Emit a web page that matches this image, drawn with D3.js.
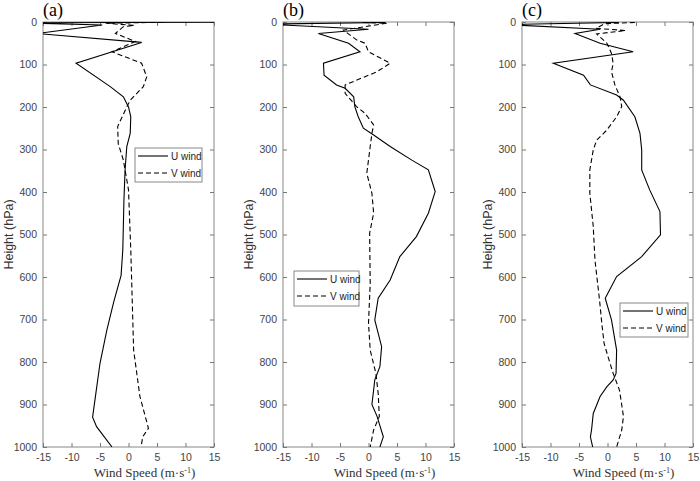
<!DOCTYPE html>
<html>
<head>
<meta charset="utf-8">
<script src="https://cdn.jsdelivr.net/npm/d3@7"></script>
<style>
  body { margin: 0; background: #fff; }
  .tick text { font-family: "Liberation Sans", Arial, sans-serif; font-size: 10.5px; fill: #444; }
  .domain { display: none; }
  .tick line { stroke: #777; }
</style>
</head>
<body>
<div id="chart"></div>
<script>

// wind profiles, pressure in hPa, wind in m/s
var panelNames = ["(a)", "(b)", "(c)"];
var xTicks = [-15, -10, -5, 0, 5, 10, 15];
var yTicks = [0, 100, 200, 300, 400, 500, 600, 700, 800, 900, 1000];

var presA_U = [0.5, 2, 7, 27, 48, 97, 152, 176, 200, 223, 262, 293, 348, 419, 536, 596, 659, 725, 803, 881, 930, 952, 1000];
var windA_U = [16, -18, -4.6, -16, 2.3, -9.2, -3.2, -0.9, 0, 0.4, 0.3, -0.3, -0.6, -0.8, -1.0, -1.3, -2.6, -3.8, -5.0, -5.8, -6.3, -5.6, -2.9];
var presA_V = [0.5, 3, 8, 11, 27, 46, 70, 97, 129, 152, 184, 200, 246, 286, 325, 395, 536, 772, 881, 956, 976, 1000];
var windA_V = [6, -4, 1.0, -0.9, -2.3, 1.2, -2.9, 2.3, 3.2, 2.6, 0.3, -0.3, -1.9, -1.8, -0.9, 0, 0.4, 0.9, 2.0, 3.5, 2.5, 2.2];

var presB_U = [1, 5, 17, 27, 50, 70, 97, 125, 148, 156, 176, 199, 223, 250, 266, 293, 325, 348, 399, 450, 505, 552, 607, 650, 701, 764, 811, 842, 866, 900, 928, 976, 1000];
var windB_U = [3, -18, 0, -8.8, -3.5, -1.5, -7.9, -7.8, -5.6, -4.1, -2.6, -2.4, -1.8, -0.9, 0.9, 3.8, 7.6, 10.5, 11.7, 10.5, 8.4, 5.5, 3.8, 1.7, 1.1, 2.3, 2.0, 1.1, 0.9, 0.6, 1.5, 2.6, 2.0];
var presB_V = [1, 3, 19, 42, 50, 70, 97, 117, 148, 168, 199, 215, 242, 262, 293, 356, 403, 450, 497, 615, 709, 772, 827, 874, 928, 960, 1000];
var windB_V = [-1, 3.2, -4.4, -2.1, -0.6, 0, 3.8, 1.5, -4.1, -4.1, -2.1, -0.6, 0.9, 0.6, 0.3, -0.3, 0.6, 0.9, 0.2, 0.3, 0, 0.3, 1.3, 1.7, 1.9, 0.9, 0.3];

var presC_U = [1, 6, 17, 27, 50, 70, 97, 125, 148, 172, 184, 223, 262, 301, 348, 395, 446, 501, 552, 599, 650, 701, 772, 827, 842, 858, 881, 921, 960, 976, 1000];
var windC_U = [2, -18, -1.3, -5.7, -1.3, 4.5, -9.5, -4.2, -3.0, 1.6, 2.8, 4.8, 5.7, 6.0, 6.0, 7.4, 9.2, 9.3, 6.0, 1.6, -0.4, 0.7, 1.6, 1.5, 1.0, -0.1, -1.3, -2.5, -2.8, -3.0, -2.6];
var presC_V = [1, 4, 15, 20, 28, 50, 74, 97, 117, 148, 176, 199, 223, 254, 278, 301, 348, 403, 481, 560, 654, 709, 756, 788, 827, 866, 928, 960, 1000];
var windC_V = [4.8, -0.5, -2.0, 3.2, -1.9, -0.1, 0.7, 1.0, 0.7, 1.3, 2.2, 2.5, 1.6, -0.1, -1.9, -2.5, -3.1, -3.1, -2.5, -2.2, -1.4, -1.0, -0.6, 0.1, 1.0, 2.1, 2.8, 2.5, 1.6];

var seriesNames = ["U wind", "V wind"];

var width = 700, height = 481;
var plotTop = 22, plotBottom = 447, pw = 171;
var lefts = [43, 283, 522];
// legend boxes [x, y, w, h] per panel
var legends = [[135, 148, 67, 34], [294, 271, 65, 35], [620, 303, 68, 34]];

var panels = [
	{u: [presA_U, windA_U], v: [presA_V, windA_V]},
	{u: [presB_U, windB_U], v: [presB_V, windB_V]},
	{u: [presC_U, windC_U], v: [presC_V, windC_V]}
];

function zipSeries(s){
	return s[0].map(function(p, i){ return {p: p, w: s[1][i]}; });
}

// plain hyphen minus like the original
var fmt = function(d){ return String(d); };

var svg = d3.select("#chart").append("svg")
	.attr("width", width).attr("height", height);

panels.forEach(function(panel, i){

	var x0 = lefts[i];
	var x = d3.scaleLinear().domain([-15, 15]).range([x0, x0 + pw]);
	var y = d3.scaleLinear().domain([0, 1000]).range([plotTop, plotBottom]);

	var g = svg.append("g");

	g.append("clipPath").attr("id", "clip" + i)
	.append("rect")
	.attr("x", x0).attr("y", plotTop)
	.attr("width", pw).attr("height", plotBottom - plotTop);

	// box
	g.append("rect")
	.attr("x", x0).attr("y", plotTop)
	.attr("width", pw).attr("height", plotBottom - plotTop)
	.attr("fill", "#fff")
	.attr("stroke", "#888")
	.attr("stroke-width", 1);

	g.append("g")
	.attr("transform", "translate(" + x0 + ",0)")
	.call(d3.axisLeft(y).tickValues(yTicks).tickSize(-4).tickPadding(6).tickFormat(fmt));

	g.append("g")
	.attr("transform", "translate(" + (x0 + pw) + ",0)")
	.call(d3.axisRight(y).tickValues(yTicks).tickSize(-4).tickFormat(""));

	g.append("g")
	.attr("transform", "translate(0," + plotBottom + ")")
	.call(d3.axisBottom(x).tickValues(xTicks).tickSize(-4).tickPadding(7).tickFormat(fmt));

	g.append("g")
	.attr("transform", "translate(0," + plotTop + ")")
	.call(d3.axisTop(x).tickValues(xTicks).tickSize(-4).tickFormat(""));

	var line = d3.line()
	.x(function(d){ return x(d.w); })
	.y(function(d){ return y(d.p); });

	g.append("path")
	.datum(zipSeries(panel.u))
	.attr("clip-path", "url(#clip" + i + ")")
	.attr("fill", "none")
	.attr("stroke", "#000")
	.attr("stroke-width", 1.1)
	.attr("d", line);

	g.append("path")
	.datum(zipSeries(panel.v))
	.attr("clip-path", "url(#clip" + i + ")")
	.attr("fill", "none")
	.attr("stroke", "#000")
	.attr("stroke-width", 1.1)
	.attr("stroke-dasharray", "5,3")
	.attr("d", line);

	// panel label
	g.append("text")
	.attr("x", x0).attr("y", 16)
	.style("font-family", "'Liberation Serif', 'Times New Roman', serif")
	.style("font-size", "18px")
	.text(panelNames[i]);

	// y label
	g.append("text")
	.attr("transform", "translate(" + (x0 - 30) + "," + ((plotTop + plotBottom) / 2) + ") rotate(-90)")
	.attr("text-anchor", "middle")
	.style("font-family", "'Liberation Sans', Arial, sans-serif")
	.style("font-size", "12.5px")
	.attr("fill", "#333")
	.text("Height (hPa)");

	// x label
	var xl = g.append("text")
	.attr("x", x0 + pw / 2 + 16).attr("y", 477)
	.attr("text-anchor", "middle")
	.style("font-family", "'Liberation Serif', 'Times New Roman', serif")
	.style("font-size", "13px")
	.attr("fill", "#333");
	xl.append("tspan").text("Wind Speed (m\u00b7s");
	xl.append("tspan").attr("dy", -4).style("font-size", "8px").text("-1");
	xl.append("tspan").attr("dy", 4).text(")");

	// legend
	var lb = legends[i];
	g.append("rect")
	.attr("x", lb[0]).attr("y", lb[1])
	.attr("width", lb[2]).attr("height", lb[3])
	.attr("fill", "#fff")
	.attr("stroke", "#888");

	seriesNames.forEach(function(name, k){
		var ly = lb[1] + 8 + k * 17;
		g.append("line")
		.attr("x1", lb[0] + 3).attr("x2", lb[0] + 33)
		.attr("y1", ly).attr("y2", ly)
		.attr("stroke", "#000")
		.attr("stroke-width", 1.1)
		.attr("stroke-dasharray", k == 1 ? "5,3" : null);
		g.append("text")
		.attr("x", lb[0] + 36).attr("y", ly + 4)
		.style("font-family", "'Liberation Sans', Arial, sans-serif")
		.style("font-size", "10px")
		.attr("fill", "#222")
		.text(name);
	});
});

</script>
</body>
</html>
